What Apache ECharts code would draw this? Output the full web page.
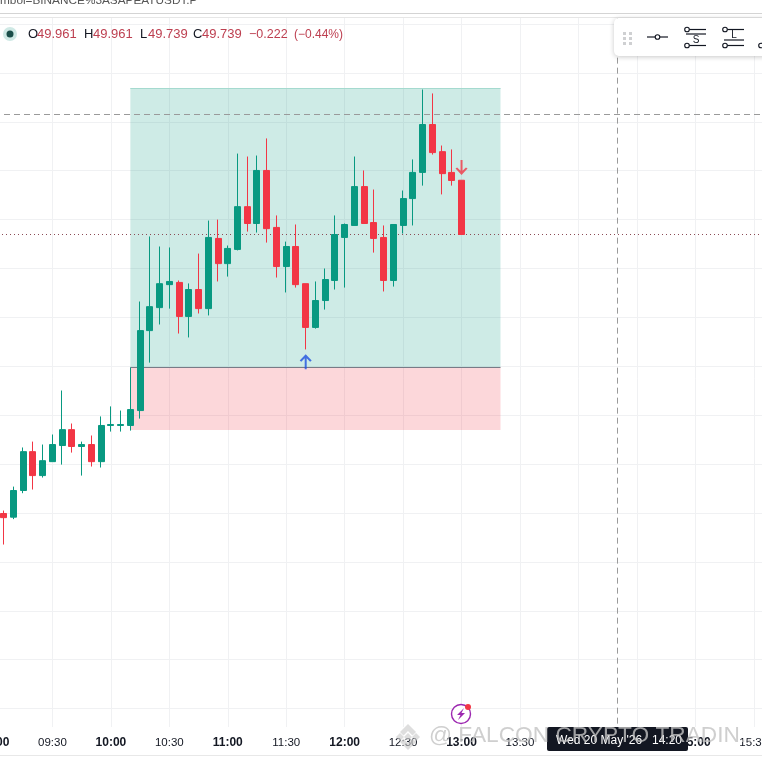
<!DOCTYPE html>
<html>
<head>
<meta charset="utf-8">
<style>html,body{margin:0;padding:0;background:#fff}#c{width:762px;height:762px}</style>
<script src="https://cdn.jsdelivr.net/npm/echarts@6/dist/echarts.min.js"></script>
</head>
<body>
<div id="c"></div>
<script>
// minutes since midnight of the first candle, 5-minute bars
const firstMinute = 545;
const barMinutes = 5;
// [open, close, low, high]
const candles = [
 [48.598,48.581,48.471,48.610],[48.583,48.692,48.575,48.708],[48.692,48.851,48.681,48.868],
 [48.851,48.753,48.696,48.892],[48.753,48.814,48.745,48.880],[48.810,48.880,48.810,48.921],
 [48.876,48.941,48.798,49.101],[48.941,48.872,48.847,48.966],[48.872,48.880,48.753,48.892],
 [48.880,48.810,48.790,48.917],[48.810,48.958,48.786,48.995],[48.958,48.962,48.933,49.036],
 [48.958,48.962,48.933,49.019],[48.958,49.023,48.937,49.195],[49.019,49.346,48.986,49.465],
 [49.346,49.444,49.215,49.731],[49.440,49.538,49.371,49.690],[49.534,49.547,49.436,49.686],
 [49.543,49.404,49.334,49.551],[49.404,49.514,49.318,49.539],[49.514,49.436,49.416,49.661],
 [49.436,49.727,49.408,49.796],[49.723,49.620,49.547,49.800],[49.620,49.682,49.567,49.694],
 [49.678,49.853,49.674,50.070],[49.853,49.784,49.751,50.058],[49.784,50.001,49.747,50.062],
 [50.001,49.763,49.706,50.132],[49.768,49.608,49.563,49.817],[49.608,49.690,49.502,49.710],
 [49.690,49.534,49.522,49.780],[49.538,49.359,49.269,49.538],[49.359,49.469,49.354,49.547],
 [49.469,49.555,49.432,49.600],[49.551,49.739,49.514,49.817],[49.727,49.780,49.522,49.784],
 [49.776,49.935,49.776,50.058],[49.935,49.784,49.784,50.001],[49.788,49.723,49.665,49.923],
 [49.727,49.551,49.506,49.776],[49.551,49.780,49.526,49.780],[49.776,49.886,49.743,49.919],
 [49.886,49.993,49.776,50.046],[49.993,50.189,49.939,50.332],[50.189,50.074,50.066,50.316],
 [50.078,49.988,49.903,50.103],[49.993,49.960,49.939,50.087],[49.961,49.739,49.739,49.961]
];
// long-position drawing
const positionStart = 610, positionEnd = 800;
const targetPrice = 50.338, entryPrice = 49.197, stopPrice = 48.939;
// reference lines
const dashedPrice = 50.227, lastPrice = 49.739;
const crosshairMinute = 860, crosshairTop = 50.626, crosshairBottom = 47.723;
// signal arrows [minute, price]
const upSignal = [700, 49.219];
const downSignal = [780, 50.013];
// axis ranges
const xMin = 540, xMax = 960, xStep = 30;
const yMin = 47.6, yMax = 50.8, yStep = 0.2;
// legend text
const legendNames = ['O','H','L','C'];
const legendValues = ['49.961','49.961','49.739','49.739'];
const legendChange = ['\u22120.222','(\u22120.44%)'];
const headerText = 'mbol=BINANCE%3ASAPEATUSDT.P';
const crosshairDate = "Wed 20 May '26", crosshairTime = '14:20';
const watermarkText = '@ FALCON CRYPTO TRADIN..';

const UP = '#089981', DOWN = '#f23645', GRIDC = '#f0f1f3';
const ink = '#131722', legendRed = '#bd3f50';
const pad = n => String(n).padStart(2,'0');
const hhmm = m => pad(Math.floor(m/60)) + ':' + pad(m%60);
const FONT = '"Liberation Sans", Arial, sans-serif';

const ohlc = candles.map((c,i)=>[firstMinute + i*barMinutes, c[0], c[1], c[2], c[3]]);

const legendX = [[28,37],[84,93],[140,148],[193,202]];
const legendEls = [];
legendNames.forEach((n,i)=>{
  legendEls.push({type:'text',z:30,style:{x:legendX[i][0],y:34.5,text:n,fill:ink,font:'13px '+FONT,verticalAlign:'middle'}});
  legendEls.push({type:'text',z:30,style:{x:legendX[i][1],y:34.5,text:legendValues[i],fill:legendRed,font:'13px '+FONT,verticalAlign:'middle'}});
});
legendEls.push({type:'text',z:30,style:{x:249,y:34.5,text:legendChange[0],fill:legendRed,font:'12.5px '+FONT,verticalAlign:'middle'}});
legendEls.push({type:'text',z:30,style:{x:294,y:34.5,text:legendChange[1],fill:legendRed,font:'12px '+FONT,verticalAlign:'middle'}});

const line = (x1,y1,x2,y2)=>({type:'line',z:31,shape:{x1,y1,x2,y2},style:{stroke:'#131722',lineWidth:1.2}});
const ring = (cx,cy)=>({type:'circle',z:32,shape:{cx,cy,r:2.3},style:{stroke:'#131722',lineWidth:1.1,fill:'#fff'}});
const dots = [];
for (let a of [623,629]) for (let b of [32,37,42]) dots.push({type:'rect',z:31,shape:{x:a,y:b,width:3,height:3},style:{fill:'#cfd0d2'}});

const graphics = [
  // chrome above the plot
  {type:'rect',z:1,shape:{x:0,y:0,width:762,height:17},style:{fill:'#fff'}},
  {type:'text',z:2,style:{x:0,y:-5,text:headerText,fill:'#555',font:'11.8px '+FONT}},
  {type:'rect',z:3,shape:{x:0,y:13,width:762,height:1},style:{fill:'#d4d4d4'}},
  {type:'rect',z:3,shape:{x:0,y:17,width:762,height:1},style:{fill:'#e6e6e6'}},
  // time-scale background
  {type:'rect',z:1,shape:{x:0,y:727,width:762,height:35},style:{fill:'#fff'}},
  {type:'rect',z:3,shape:{x:0,y:755,width:762,height:1},style:{fill:'#e8e8e8'}},
  // legend status dot
  {type:'circle',z:30,shape:{cx:10,cy:34,r:7},style:{fill:'#cfe9e5'}},
  {type:'circle',z:31,shape:{cx:10,cy:34,r:3.5},style:{fill:'#1b4f4a'}},
  ...legendEls,
  // floating toolbar
  {type:'rect',z:29,shape:{x:614,y:18,width:160,height:38,r:5},style:{fill:'#fff',shadowBlur:5,shadowColor:'rgba(0,0,0,0.22)',shadowOffsetY:1}},
  ...dots,
  line(647,37,668,37), ring(657.5,37),
  line(686,29.5,706,29.5), line(686,45.5,706,45.5), line(686,34,706,34),
  ring(687,29.5), ring(687,45.5),
  {type:'text',z:31,style:{x:696,y:40,text:'S',fill:'#131722',font:'10px '+FONT,align:'center',verticalAlign:'middle'}},
  line(724,29.5,744,29.5), line(724,45.5,744,45.5), line(724,40,744,40),
  ring(725,29.5), ring(725,45.5),
  {type:'text',z:31,style:{x:734,y:35,text:'L',fill:'#131722',font:'10px '+FONT,align:'center',verticalAlign:'middle'}},
  ring(761,45.5),
  // alert icon
  {type:'circle',z:30,shape:{cx:461,cy:714,r:9.5},style:{stroke:'#9c27b0',lineWidth:1.4,fill:'#fff'}},
  {type:'polygon',z:31,shape:{points:[[464,708],[457,715],[460.5,715],[458,720],[465,713],[461.5,713]]},style:{fill:'#9c27b0'}},
  {type:'circle',z:32,shape:{cx:468,cy:707,r:3},style:{fill:'#f23645'}},
  // crosshair time tag
  {type:'rect',z:30,shape:{x:547,y:727,width:141,height:24,r:2},style:{fill:'#131722'}},
  {type:'text',z:31,style:{x:556,y:741,text:crosshairDate,fill:'#fff',font:'12px '+FONT,verticalAlign:'middle'}},
  {type:'text',z:31,style:{x:652,y:741,text:crosshairTime,fill:'#fff',font:'12px '+FONT,verticalAlign:'middle'}},
  // watermark
  {type:'polygon',z:40,shape:{points:[[408,724],[416,732],[412.5,735.5],[408,731],[403.5,735.5],[400,732]]},style:{fill:'rgba(200,200,200,0.6)'}},
  {type:'polygon',z:40,shape:{points:[[408,733],[412,737],[408,741],[404,737]]},style:{fill:'rgba(200,200,200,0.6)'}},
  {type:'polygon',z:40,shape:{points:[[416,733],[420,737],[416,741],[412,737]]},style:{fill:'rgba(200,200,200,0.6)'}},
  {type:'polygon',z:40,shape:{points:[[400,733],[404,737],[400,741],[396,737]]},style:{fill:'rgba(200,200,200,0.6)'}},
  {type:'polygon',z:40,shape:{points:[[403.5,738.5],[408,743],[412.5,738.5],[416,742],[408,750],[400,742]]},style:{fill:'rgba(200,200,200,0.6)'}},
  {type:'text',z:41,style:{x:429,y:736,text:watermarkText,fill:'rgba(195,195,195,0.8)',font:'22.7px '+FONT,verticalAlign:'middle'}}
];

const arrowUp = 'path://M6 0 L12 6.4 L10.4 7.6 L7 4.2 L7 15 L5 15 L5 4.2 L1.6 7.6 L0 6.4 Z';
const arrowDown = 'path://M6 15 L12 8.6 L10.4 7.4 L7 10.8 L7 0 L5 0 L5 10.8 L1.6 7.4 L0 8.6 Z';

const axisBase = {type:'value',min:xMin,max:xMax,interval:xStep,axisLine:{show:false},axisTick:{show:false}};

const chart = echarts.init(document.getElementById('c'),null,{renderer:'canvas',width:762,height:762});
chart.setOption({
  animation:false,
  backgroundColor:'#fff',
  textStyle:{fontFamily:FONT},
  grid:{left:-6,top:-24.9,width:818.2,height:782.4,containLabel:false,outerBoundsMode:'none'},
  xAxis:[
    {...axisBase,axisLabel:{show:false},splitLine:{show:true,lineStyle:{color:GRIDC,width:1}},z:0},
    {...axisBase,position:'bottom',offset:-30,splitLine:{show:false},z:5,
      axisLabel:{show:true,margin:9,showMinLabel:true,showMaxLabel:true,
        formatter:v=>(v%60===0?'{b|':'{r|')+hhmm(v)+'}',
        rich:{b:{fontWeight:'bold',fontSize:12,color:ink,fontFamily:FONT},r:{fontSize:11.5,color:ink,fontFamily:FONT}}}}
  ],
  yAxis:{type:'value',min:yMin,max:yMax,interval:yStep,axisLine:{show:false},axisTick:{show:false},axisLabel:{show:false},
    splitLine:{show:true,lineStyle:{color:GRIDC,width:1}},z:0},
  graphic:{elements:graphics},
  series:[
    {type:'candlestick',xAxisIndex:0,data:ohlc,barWidth:6.5,clip:false,z:3,
      encode:{x:0,y:[1,2,3,4]},
      itemStyle:{color:UP,color0:DOWN,borderColor:UP,borderColor0:DOWN,borderWidth:1},
      markArea:{silent:true,z:1,data:[
        [{coord:[positionStart,targetPrice],itemStyle:{color:'rgba(8,153,129,0.2)'}},{coord:[positionEnd,entryPrice]}],
        [{coord:[positionStart,entryPrice],itemStyle:{color:'rgba(242,54,69,0.2)'}},{coord:[positionEnd,stopPrice]}]
      ]},
      markLine:{silent:true,z:2,symbol:'none',label:{show:false},data:[
        [{coord:[positionStart,entryPrice],lineStyle:{color:'#787b86',width:1,type:'solid'}},{coord:[positionEnd,entryPrice]}],
        [{coord:[positionStart,targetPrice],lineStyle:{color:'#a5dacf',width:1,type:'solid'}},{coord:[positionEnd,targetPrice]}],
        {yAxis:dashedPrice,lineStyle:{color:'#9a9a9a',width:1,type:[6,4]}},
        {yAxis:lastPrice,lineStyle:{color:'#8a4a55',width:1,type:[1,3]}},
        [{coord:[crosshairMinute,crosshairTop],lineStyle:{color:'#9a9a9a',width:1,type:[6,4]}},{coord:[crosshairMinute,crosshairBottom]}]
      ]}
    },
    {type:'scatter',xAxisIndex:0,z:6,symbol:arrowUp,symbolSize:[12,15],data:[upSignal],silent:true,itemStyle:{color:'#1e50e0'}},
    {type:'scatter',xAxisIndex:0,z:6,symbol:arrowDown,symbolSize:[12,15],data:[downSignal],silent:true,itemStyle:{color:'#f23645'}}
  ]
});
</script>
</body>
</html>
